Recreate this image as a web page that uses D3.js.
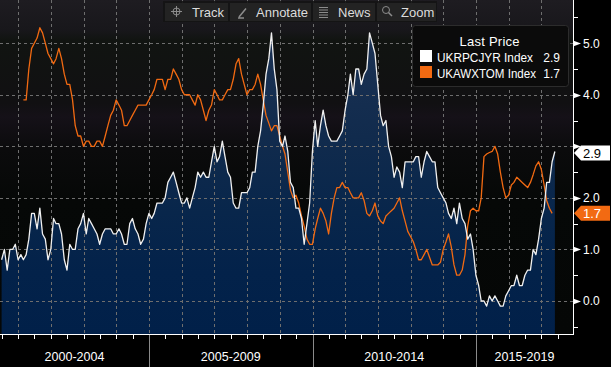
<!DOCTYPE html>
<html><head><meta charset="utf-8">
<script src="https://cdn.jsdelivr.net/npm/d3@7/dist/d3.min.js"></script>
<style>
html,body{margin:0;padding:0;background:#000;}
svg{display:block;font-family:"Liberation Sans",Arial,sans-serif;}
</style></head>
<body><svg id="chart" width="611" height="367"></svg>
<script>
// ---------------- DATA ----------------
const seriesNames = ["UKRPCJYR Index", "UKAWXTOM Index"];
const lastPrices = ["2.9", "1.7"];
const cpiStart = [2000, 6];   // first month (year, month 1-12)
const cpiValues = [
  0.8,1.0,0.6,1.0,1.0,1.1,0.8,
  0.9,0.8,0.9,1.2,1.7,1.7,1.4,1.8,1.3,1.2,0.8,1.0,
  1.6,1.5,1.5,1.3,0.8,0.6,1.1,1.0,1.0,1.4,1.5,1.7,
  1.3,1.6,1.5,1.4,1.3,1.1,1.3,1.4,1.4,1.4,1.3,1.3,
  1.4,1.3,1.1,1.1,1.5,1.6,1.4,1.3,1.1,1.2,1.5,1.7,
  1.6,1.7,1.9,1.9,1.9,2.0,2.3,2.4,2.5,2.3,2.1,1.9,
  1.9,2.0,1.8,2.0,2.2,2.5,2.4,2.5,2.4,2.4,2.7,3.0,
  2.7,2.8,3.1,2.8,2.5,2.4,1.9,1.8,1.8,2.1,2.1,2.1,
  2.2,2.5,2.5,3.0,3.3,3.8,4.4,4.7,5.2,4.5,4.1,3.1,
  3.0,3.2,2.9,2.3,2.2,1.8,1.8,1.6,1.1,1.5,1.9,2.9,
  3.5,3.0,3.4,3.7,3.4,3.2,3.1,3.1,3.1,3.2,3.3,3.7,
  4.0,4.4,4.0,4.5,4.5,4.2,4.4,4.5,5.2,5.0,4.8,4.2,
  3.6,3.4,3.5,3.0,2.8,2.4,2.6,2.5,2.2,2.7,2.7,2.7,
  2.7,2.8,2.8,2.4,2.7,2.9,2.8,2.7,2.7,2.2,2.1,2.0,
  1.9,1.7,1.6,1.8,1.5,1.9,1.6,1.5,1.2,1.3,1.0,0.5,
  0.3,0.0,0.0,-0.1,0.1,0.0,0.1,0.0,-0.1,-0.1,0.1,0.2,
  0.3,0.3,0.5,0.3,0.3,0.5,0.6,0.6,1.0,0.9,1.2,1.6,
  1.8,2.3,2.3,2.7,2.9
];
const awStart = [2001, 2];
const awValues = [
  3.9,3.9,4.5,4.9,5.0,5.1,5.3,5.2,5.0,4.8,4.7,4.6,
  4.7,4.9,4.7,4.4,4.2,4.2,3.9,3.4,3.2,3.2,3.0,3.1,
  3.1,3.0,3.0,3.1,3.1,3.0,3.2,3.4,3.6,3.7,3.9,3.8,
  3.7,3.4,3.4,3.5,3.6,3.7,3.8,3.8,3.8,3.8,3.9,4.0,
  4.1,4.3,4.3,4.3,4.1,4.3,4.3,4.5,4.4,4.3,4.1,4.0,
  4.0,4.0,3.9,3.8,4.0,3.9,3.7,3.5,3.7,3.8,4.1,4.0,
  3.9,3.9,4.0,4.1,4.1,4.3,4.6,4.7,4.4,4.2,4.0,4.1,
  4.1,4.2,4.4,4.2,3.9,3.6,3.45,3.3,3.4,3.4,3.2,3.0,
  2.85,2.5,2.15,2.0,2.05,1.9,1.65,1.45,1.2,1.1,1.1,1.4,
  1.6,1.8,1.7,1.55,1.3,1.7,2.0,2.2,2.2,2.3,2.2,2.2,
  2.1,2.0,2.0,2.0,2.1,1.95,1.7,1.65,1.75,1.9,1.65,1.55,
  1.5,1.65,1.7,1.75,1.8,1.9,2.0,1.75,1.55,1.35,1.25,1.15,
  1.0,0.8,0.8,0.9,1.0,0.85,0.7,0.7,0.7,0.75,1.0,1.15,
  1.3,1.05,0.7,0.5,0.5,0.6,0.9,1.45,1.75,1.8,1.75,1.75,
  2.0,2.8,2.85,2.88,2.9,3.0,2.85,2.5,2.2,2.0,2.05,2.25,
  2.3,2.4,2.35,2.3,2.25,2.2,2.3,2.45,2.62,2.7,2.55,2.25,
  1.95,1.8,1.7
];
const yTickValues = [0,1,2,3,4,5];
const yMinorValues = [-0.5,0.5,1.5,2.5,3.5,4.5,5.5];
const periodLabels = ["2000-2004","2005-2009","2010-2014","2015-2019"];
const periodStarts = [2000,2005,2010,2015];
const toolbarLabels = ["Track","Annotate","News","Zoom"];
const colors = ["#f0f0f0", "#f26a12"];

// ---------------- LAYOUT ----------------
const W=611, H=367, plotL=0, plotR=573, plotT=0, plotB=334;
const svg = d3.select("#chart");

function monthEnd(start, i){ return new Date(start[0], start[1]-1+i+1, 0); }
const cpi = cpiValues.map((v,i)=>({d:monthEnd(cpiStart,i), v}));
const aw = awValues.map((v,i)=>({d:monthEnd(awStart,i), v}));

const xCal = d3.scaleTime().domain([new Date(2005,0,1), new Date(2010,0,1)]).range([149,312.5]);
const x = d3.scaleTime().domain([xCal.invert(plotL), xCal.invert(plotR)]).range([plotL, plotR]);
const y = d3.scaleLinear().domain([0,5]).range([301,43.2]);

const defs = svg.append("defs");
const bg = defs.append("linearGradient").attr("id","bg").attr("x1",0).attr("y1",0).attr("x2",0).attr("y2",1);
[[0,"#1e1c21"],[0.09,"#18171b"],[0.12,"#111411"],[0.31,"#111012"],[0.35,"#151118"],[0.45,"#0b0b0c"],[0.6,"#060807"],[1,"#050706"]]
  .forEach(s=>bg.append("stop").attr("offset",s[0]).attr("stop-color",s[1]));
const ag = defs.append("linearGradient").attr("id","ag").attr("gradientUnits","userSpaceOnUse")
  .attr("x1",0).attr("y1",30).attr("x2",0).attr("y2",plotB);
[[0,"#1b3254"],[0.35,"#112b4d"],[0.6,"#08264b"],[0.8,"#03224a"],[1,"#012049"]]
  .forEach(s=>ag.append("stop").attr("offset",s[0]).attr("stop-color",s[1]));
defs.append("clipPath").attr("id","clip").append("rect")
  .attr("x",plotL).attr("y",plotT).attr("width",plotR-plotL).attr("height",plotB-plotT);

svg.append("rect").attr("width",W).attr("height",H).attr("fill","#000");
svg.append("rect").attr("x",plotL).attr("y",plotT).attr("width",plotR-plotL).attr("height",plotB-plotT).attr("fill","url(#bg)");

const plot = svg.append("g").attr("clip-path","url(#clip)");

plot.append("path").datum(cpi)
  .attr("d", d3.area().x(d=>x(d.d)).y0(plotB).y1(d=>y(d.v)))
  .attr("fill","url(#ag)");

const grid = plot.append("g").attr("stroke","#6e6e6e").attr("stroke-dasharray","3,3").attr("stroke-width",1);
grid.selectAll(".vg").data(x.ticks(d3.timeYear.every(1))).join("line")
  .attr("x1",d=>Math.round(x(d))+0.5).attr("x2",d=>Math.round(x(d))+0.5)
  .attr("y1",plotT).attr("y2",plotB);
grid.selectAll(".hg").data(yTickValues).join("line")
  .attr("x1",plotL).attr("x2",plotR)
  .attr("y1",d=>Math.round(y(d))+0.5).attr("y2",d=>Math.round(y(d))+0.5);

const line = d3.line().x(d=>x(d.d)).y(d=>y(d.v));
plot.append("path").datum(aw).attr("d",line).attr("fill","none")
  .attr("stroke",colors[1]).attr("stroke-width",1.3).attr("stroke-linejoin","round");
plot.append("path").datum(cpi).attr("d",line).attr("fill","none")
  .attr("stroke",colors[0]).attr("stroke-width",1.3).attr("stroke-linejoin","round");

// ---------------- X AXIS ----------------
const xa = svg.append("g");
xa.append("line").attr("x1",plotL).attr("x2",plotR).attr("y1",plotB+0.5).attr("y2",plotB+0.5).attr("stroke","#fff");
xa.selectAll(".xt").data(x.ticks(d3.timeMonth.every(6))).join("line")
  .attr("x1",d=>Math.round(x(d))+0.5).attr("x2",d=>Math.round(x(d))+0.5)
  .attr("y1",plotB).attr("y2",plotB+5).attr("stroke","#fff");
periodStarts.forEach((ys,i)=>{
  const a = Math.max(plotL, x(new Date(ys,0,1)));
  const b = Math.min(plotR, x(new Date(ys+5,0,1)));
  if (i>0) xa.append("line").attr("x1",Math.round(a)+0.5).attr("x2",Math.round(a)+0.5)
    .attr("y1",plotB+1).attr("y2",H).attr("stroke","#8a8a8a");
  xa.append("text").attr("x",(a+b)/2).attr("y",361).attr("text-anchor","middle")
    .attr("fill","#fff").attr("font-size",12.5).text(periodLabels[i]);
});

// ---------------- Y AXIS (right) ----------------
const tagVals = lastPrices.map(Number);
const ya = svg.append("g");
ya.append("line").attr("x1",plotR+0.5).attr("x2",plotR+0.5).attr("y1",0).attr("y2",plotB+1).attr("stroke","#fff");
ya.selectAll(".mt").data(yMinorValues).join("line")
  .attr("x1",plotR).attr("x2",plotR+5)
  .attr("y1",d=>Math.round(y(d))+0.5).attr("y2",d=>Math.round(y(d))+0.5).attr("stroke","#fff");
ya.selectAll(".tri").data(yTickValues).join("path")
  .attr("d",d=>{const yy=Math.round(y(d))+0.5; return `M${plotR},${yy-3}L${plotR+8},${yy}L${plotR},${yy+3}Z`;})
  .attr("fill","#fff");
// labels hidden by a price tag are not drawn (as in the reference)
const visibleTicks = yTickValues.filter(v=>tagVals.every(t=>Math.abs(y(v)-y(t))>12));
ya.selectAll(".tl").data(visibleTicks).join("text")
  .attr("x",plotR+10).attr("y",d=>y(d)).attr("dy","0.36em")
  .attr("fill","#fff").attr("font-size",12).text(d3.format(".1f"));

[[tagVals[0], "#ffffff", "#000", 1.5], [tagVals[1], colors[1], "#fff", 0]].forEach((t,i)=>{
  const yc = y(t[0]) + t[3];
  svg.append("path").attr("d",`M${plotR+1},${yc}L${plotR+8},${yc-7.5}L${W-1},${yc-7.5}L${W-1},${yc+7.5}L${plotR+8},${yc+7.5}Z`)
    .attr("fill",t[1]);
  svg.append("text").attr("x",plotR+10).attr("y",yc).attr("dy","0.36em")
    .attr("fill",t[2]).attr("font-size",13).text(lastPrices[i]);
});

// ---------------- LEGEND ----------------
const lg = svg.append("g");
lg.append("rect").attr("x",412.5).attr("y",25.5).attr("width",156).attr("height",61).attr("rx",3)
  .attr("fill","#0b0b0b").attr("stroke","#2c2c2c");
lg.append("text").attr("x",459.5).attr("y",46).attr("fill","#fff")
  .attr("font-size",13).attr("textLength",60).attr("lengthAdjust","spacing").text("Last Price");
const nameLen = [96, 99];
seriesNames.forEach((n,i)=>{
  const by = 61.5 + i*16;
  lg.append("rect").attr("x",420).attr("y",by-11.5).attr("width",12).attr("height",12).attr("fill",i===0?"#fff":colors[i]);
  lg.append("text").attr("x",437).attr("y",by).attr("fill","#fff").attr("font-size",12)
    .attr("textLength",nameLen[i]).attr("lengthAdjust","spacingAndGlyphs").text(n);
  lg.append("text").attr("x",560).attr("y",by).attr("text-anchor","end").attr("fill","#fff").attr("font-size",12).text(lastPrices[i]);
});

// ---------------- TOOLBAR ----------------
const tb = svg.append("g");
tb.append("rect").attr("x",163).attr("y",1).attr("width",274).attr("height",21).attr("fill","#141414").attr("opacity",0.9);
const btnX = [165,230,313,377], btnW=[63,81,62,59], txtX=[192,256,338,401];
toolbarLabels.forEach((l,i)=>{
  tb.append("rect").attr("x",btnX[i]).attr("y",3).attr("width",btnW[i]).attr("height",18)
    .attr("fill","#262626").attr("opacity",0.88);
  tb.append("text").attr("x",txtX[i]).attr("y",16.5).attr("fill","#dcdcdc").attr("font-size",13).text(l);
});
const ic = tb.append("g").attr("stroke","#8c8c8c").attr("fill","none").attr("stroke-width",1);
ic.append("circle").attr("cx",176.5).attr("cy",11.5).attr("r",3.5);
ic.append("path").attr("d","M171,11.5H182M176.5,6V17");
ic.append("path").attr("d","M239,17L246,8.5M238,18H244").attr("stroke-width",1.5);
ic.append("path").attr("d","M319,7.5H328M319,10H328M319,12.5H328M319,15H328M319,17.5H328");
ic.append("circle").attr("cx",386).attr("cy",10).attr("r",3.5);
ic.append("path").attr("d","M388.5,12.5L392,16").attr("stroke-width",1.5);
</script></body></html>
